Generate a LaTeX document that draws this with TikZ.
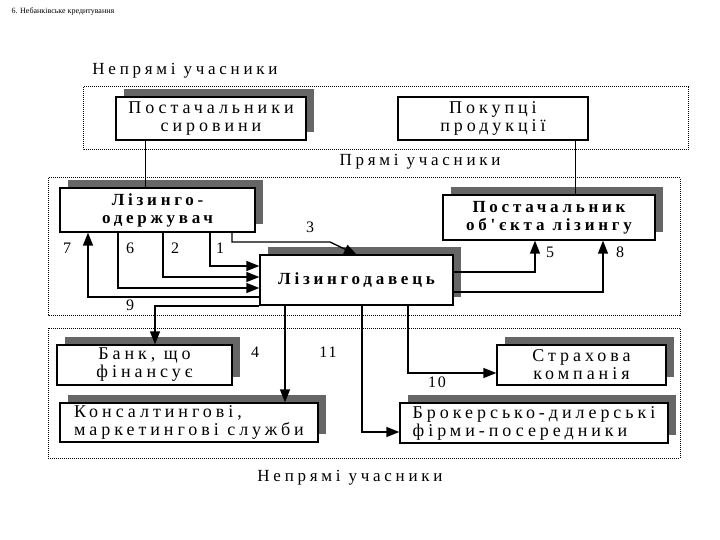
\documentclass[tikz,border=0pt]{standalone}
\usepackage{fontspec}
\setmainfont{Liberation Serif}
\newfontfamily\spaced{Liberation Serif}[LetterSpace=22]
\newfontfamily\numsp{Liberation Serif}[LetterSpace=12]
\usetikzlibrary{arrows.meta}
\begin{document}
\begin{tikzpicture}[x=1pt,y=-1pt,
  box/.style={draw,line width=1.2pt,fill=white,align=center,font=\spaced\fontsize{18}{18}\selectfont,inner sep=0pt},
  bbox/.style={box,font=\spaced\bfseries\fontsize{17}{18}\selectfont},
  sh/.style={fill=gray!80!black},
  reg/.style={draw,densely dotted,line width=1pt},
  con/.style={line width=1pt},
  arr/.style={line width=1.3pt,-{Triangle[length=13pt,width=10pt]}},
  lab/.style={font=\numsp\fontsize{16}{16}\selectfont},
  ttl/.style={font=\spaced\fontsize{17}{17}\selectfont}]
\useasboundingbox (0,0) rectangle (720,540);
\node[anchor=west,font=\fontsize{8}{8}\selectfont] (hdr) at (8,12) {6. Небанківське кредитування};
% regions
\draw[reg] (83,87) rectangle (688,150);
\draw[reg] (48,178) rectangle (680,315);
\draw[reg] (48,328) rectangle (680,458);
\node[ttl] (t1) at (185,71) {Непрямі учасники};
\node[ttl] (t2) at (420,162) {Прямі учасники};
\node[ttl] (t3) at (350,478) {Непрямі учасники};
% shadows
\fill[sh] (124,89) rectangle (314,132);
\fill[sh] (68,180) rectangle (263,224);
\fill[sh] (451,187) rectangle (663,232);
\fill[sh] (268,247) rectangle (461,297);
\fill[sh] (65,337) rectangle (240,377);
\fill[sh] (68,395) rectangle (326,434);
\fill[sh] (505,337) rectangle (674,377);
\fill[sh] (408,395) rectangle (676,435);
% boxes
\node[box,minimum width=190pt,minimum height=43pt] (ps) at (211,118.5) {Постачальники\\сировини};
\node[box,minimum width=190pt,minimum height=43pt] (pp) at (493,118.5) {Покупці\\продукції};
\node[bbox,minimum width=195pt,minimum height=44pt] (lo) at (157.5,210) {Лізинго-\\одержувач};
\node[bbox,minimum width=212pt,minimum height=45pt] (po) at (549,217.5) {Постачальник\\об'єкта лізингу};
\node[bbox,minimum width=193pt,minimum height=50pt] (ld) at (356.5,280) {Лізингодавець};
\node[box,minimum width=175pt,minimum height=40pt] (bank) at (144.5,365) {Банк, що\\фінансує};
\node[box,minimum width=258pt,minimum height=39pt,align=left] (kons) at (189,422.5) {Консалтингові,\\маркетингові служби};
\node[box,minimum width=169pt,minimum height=40pt] (str) at (581.5,365) {Страхова\\компанія};
\node[box,minimum width=268pt,minimum height=40pt,align=left] (brok) at (534,423) {Брокерсько-дилерські\\фірми-посередники};
% connectors
\draw[con] (ps.south -| 145,0) -- (lo.north -| 145,0);
\draw[con] (pp.south -| 575,0) -- (po.north -| 575,0);
\draw[arr] (lo.south -| 210,0) |- (ld.west |- 0,266);
\draw[arr] (lo.south -| 163,0) |- (ld.west |- 0,277);
\draw[arr] (lo.south -| 118,0) |- (ld.west |- 0,288);
\draw[arr] (ld.west |- 0,297) -| (lo.south -| 88,0);
\draw[arr] (lo.south -| 232,0) -- (232,242) -- (330,242) -- (357,255);
\draw[arr] (ld.west |- 0,306) -| (bank.north -| 155,0);
\draw[arr] (ld.east |- 0,272) -| (po.south -| 535,0);
\draw[arr] (ld.east |- 0,292) -| (po.south -| 603,0);
\draw[arr] (ld.south -| 285,0) -- (kons.north -| 285,0);
\draw[arr] (ld.south -| 362,0) |- (brok.west |- 0,432);
\draw[arr] (ld.south -| 408,0) |- (str.west |- 0,373);
% labels
\node[lab] (l7) at (67,248) {7};
\node[lab] (l6) at (130,248) {6};
\node[lab] (l2) at (175,248) {2};
\node[lab] (l1) at (220,248) {1};
\node[lab] (l3) at (310,227) {3};
\node[lab] (l5) at (550,252) {5};
\node[lab] (l8) at (620,252) {8};
\node[lab] (l9) at (130,305) {9};
\node[lab] (l4) at (255,352) {4};
\node[lab] (l11) at (328,352) {11};
\node[lab] (l10) at (437,382) {10};
\end{tikzpicture}
\end{document}
